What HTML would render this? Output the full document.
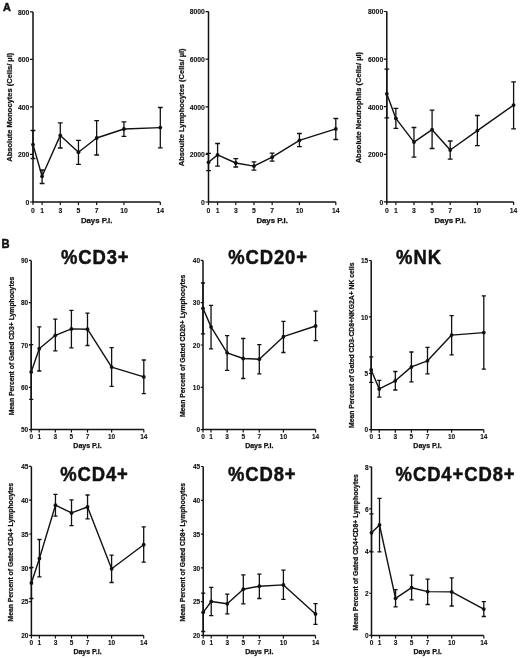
<!DOCTYPE html>
<html><head><meta charset="utf-8"><style>
html,body{margin:0;padding:0;background:#fff;}
svg{display:block;will-change:transform;}
text{font-family:"Liberation Sans",sans-serif;fill:#111;stroke:#111;stroke-width:0.25px;}
.yt{text-anchor:end;font-weight:bold;stroke-width:0.1px;}
.xt{text-anchor:middle;font-weight:bold;stroke-width:0.1px;}
.xl{text-anchor:middle;font-weight:bold;}
.yl{text-anchor:middle;font-weight:bold;}
.ti{font-weight:bold;font-size:20.5px;letter-spacing:1.0px;stroke-width:0.5px;}
.pl{font-weight:bold;font-size:12.2px;stroke-width:0.5px;}
</style></head><body>
<svg width="520" height="658" viewBox="0 0 520 658">
<rect width="520" height="658" fill="#fff"/>
<text transform="translate(2.9 10.7) scale(0.95 1)" class="pl" style="font-size:11.5px">A</text>
<text transform="translate(1.6 247.9) scale(0.92 1)" class="pl">B</text>
<g><path d="M33 11.9V202H160.3" fill="none" stroke="#111" stroke-width="1.5"/><text x="29.4" y="204.8" class="yt" font-size="6.8">0</text><text x="29.4" y="157.28" class="yt" font-size="6.8">200</text><text x="29.4" y="109.75" class="yt" font-size="6.8">400</text><text x="29.4" y="62.23" class="yt" font-size="6.8">600</text><text x="29.4" y="14.7" class="yt" font-size="6.8">800</text><text x="33" y="212.9" class="xt" font-size="6.8">0</text><text x="42.09" y="212.9" class="xt" font-size="6.8">1</text><text x="60.28" y="212.9" class="xt" font-size="6.8">3</text><text x="78.46" y="212.9" class="xt" font-size="6.8">5</text><text x="96.65" y="212.9" class="xt" font-size="6.8">7</text><text x="123.93" y="212.9" class="xt" font-size="6.8">10</text><text x="160.3" y="212.9" class="xt" font-size="6.8">14</text><path d="M30 202H33M30 154.47H33M30 106.95H33M30 59.43H33M30 11.9H33M33 202V205M42.09 202V205M60.28 202V205M78.46 202V205M96.65 202V205M123.93 202V205M160.3 202V205" fill="none" stroke="#111" stroke-width="1.2"/><text x="96.65" y="223.3" class="xl" font-size="7.8">Days P.I.</text><text transform="translate(12.45 107.25) rotate(-90)" class="yl" font-size="7.5">Absolute Monocytes (Cells/ µl)</text><path d="M33 130.5V158.5M30.6 130.5H35.4M30.6 158.5H35.4M42.09 170V183.5M39.69 170H44.49M39.69 183.5H44.49M60.28 122.8V148M57.88 122.8H62.68M57.88 148H62.68M78.46 140.3V164.3M76.06 140.3H80.86M76.06 164.3H80.86M96.65 120.6V155M94.25 120.6H99.05M94.25 155H99.05M123.93 121.8V136.4M121.53 121.8H126.33M121.53 136.4H126.33M160.3 107.5V147.9M157.9 107.5H162.7M157.9 147.9H162.7" fill="none" stroke="#111" stroke-width="1.3"/><polyline points="33,144.6 42.09,176.3 60.28,135.4 78.46,152.2 96.65,138 123.93,129 160.3,127.6" fill="none" stroke="#111" stroke-width="1.4" stroke-linejoin="round"/><circle cx="33" cy="144.6" r="1.9" fill="#111"/><circle cx="42.09" cy="176.3" r="1.9" fill="#111"/><circle cx="60.28" cy="135.4" r="1.9" fill="#111"/><circle cx="78.46" cy="152.2" r="1.9" fill="#111"/><circle cx="96.65" cy="138" r="1.9" fill="#111"/><circle cx="123.93" cy="129" r="1.9" fill="#111"/><circle cx="160.3" cy="127.6" r="1.9" fill="#111"/></g>
<g><path d="M208.5 11.6V202H335.8" fill="none" stroke="#111" stroke-width="1.5"/><text x="204.9" y="204.8" class="yt" font-size="6.8">0</text><text x="204.9" y="157.2" class="yt" font-size="6.8">2000</text><text x="204.9" y="109.6" class="yt" font-size="6.8">4000</text><text x="204.9" y="62" class="yt" font-size="6.8">6000</text><text x="204.9" y="14.4" class="yt" font-size="6.8">8000</text><text x="208.5" y="212.9" class="xt" font-size="6.8">0</text><text x="217.59" y="212.9" class="xt" font-size="6.8">1</text><text x="235.78" y="212.9" class="xt" font-size="6.8">3</text><text x="253.96" y="212.9" class="xt" font-size="6.8">5</text><text x="272.15" y="212.9" class="xt" font-size="6.8">7</text><text x="299.43" y="212.9" class="xt" font-size="6.8">10</text><text x="335.8" y="212.9" class="xt" font-size="6.8">14</text><path d="M205.5 202H208.5M205.5 154.4H208.5M205.5 106.8H208.5M205.5 59.2H208.5M205.5 11.6H208.5M208.5 202V205M217.59 202V205M235.78 202V205M253.96 202V205M272.15 202V205M299.43 202V205M335.8 202V205" fill="none" stroke="#111" stroke-width="1.2"/><text x="272.15" y="223.3" class="xl" font-size="7.8">Days P.I.</text><text transform="translate(184.1 107.3) rotate(-90)" class="yl" font-size="7.5">Absoulte Lymphocytes (Cells/ µl)</text><path d="M208.5 153.4V170.6M206.1 153.4H210.9M206.1 170.6H210.9M217.59 143.5V166.1M215.19 143.5H219.99M215.19 166.1H219.99M235.78 158.7V167M233.38 158.7H238.18M233.38 167H238.18M253.96 161.9V170.1M251.56 161.9H256.36M251.56 170.1H256.36M272.15 153.1V161.1M269.75 153.1H274.55M269.75 161.1H274.55M299.43 133.5V146.6M297.03 133.5H301.83M297.03 146.6H301.83M335.8 118.5V139.5M333.4 118.5H338.2M333.4 139.5H338.2" fill="none" stroke="#111" stroke-width="1.3"/><polyline points="208.5,162.3 217.59,154.9 235.78,163 253.96,166.1 272.15,157.2 299.43,140.3 335.8,128.9" fill="none" stroke="#111" stroke-width="1.4" stroke-linejoin="round"/><circle cx="208.5" cy="162.3" r="1.9" fill="#111"/><circle cx="217.59" cy="154.9" r="1.9" fill="#111"/><circle cx="235.78" cy="163" r="1.9" fill="#111"/><circle cx="253.96" cy="166.1" r="1.9" fill="#111"/><circle cx="272.15" cy="157.2" r="1.9" fill="#111"/><circle cx="299.43" cy="140.3" r="1.9" fill="#111"/><circle cx="335.8" cy="128.9" r="1.9" fill="#111"/></g>
<g><path d="M386.8 11.5V201.9H513.6" fill="none" stroke="#111" stroke-width="1.5"/><text x="383.2" y="204.7" class="yt" font-size="6.8">0</text><text x="383.2" y="157.1" class="yt" font-size="6.8">2000</text><text x="383.2" y="109.5" class="yt" font-size="6.8">4000</text><text x="383.2" y="61.9" class="yt" font-size="6.8">6000</text><text x="383.2" y="14.3" class="yt" font-size="6.8">8000</text><text x="386.8" y="212.8" class="xt" font-size="6.8">0</text><text x="395.86" y="212.8" class="xt" font-size="6.8">1</text><text x="413.97" y="212.8" class="xt" font-size="6.8">3</text><text x="432.09" y="212.8" class="xt" font-size="6.8">5</text><text x="450.2" y="212.8" class="xt" font-size="6.8">7</text><text x="477.37" y="212.8" class="xt" font-size="6.8">10</text><text x="513.6" y="212.8" class="xt" font-size="6.8">14</text><path d="M383.8 201.9H386.8M383.8 154.3H386.8M383.8 106.7H386.8M383.8 59.1H386.8M383.8 11.5H386.8M386.8 201.9V204.9M395.86 201.9V204.9M413.97 201.9V204.9M432.09 201.9V204.9M450.2 201.9V204.9M477.37 201.9V204.9M513.6 201.9V204.9" fill="none" stroke="#111" stroke-width="1.2"/><text x="450.2" y="223.2" class="xl" font-size="7.8">Days P.I.</text><text transform="translate(361.05 107.6) rotate(-90)" class="yl" font-size="7.5">Absolute Neutrophils (Cells/ µl)</text><path d="M386.8 69.2V117.8M384.4 69.2H389.2M384.4 117.8H389.2M395.86 108.4V128.4M393.46 108.4H398.26M393.46 128.4H398.26M413.97 127.5V157.2M411.57 127.5H416.37M411.57 157.2H416.37M432.09 110.2V148.5M429.69 110.2H434.49M429.69 148.5H434.49M450.2 141V159.1M447.8 141H452.6M447.8 159.1H452.6M477.37 115.5V145.6M474.97 115.5H479.77M474.97 145.6H479.77M513.6 81.8V128.8M511.2 81.8H516M511.2 128.8H516" fill="none" stroke="#111" stroke-width="1.3"/><polyline points="386.8,93.8 395.86,118.4 413.97,142.1 432.09,129.7 450.2,150 477.37,130.6 513.6,105.1" fill="none" stroke="#111" stroke-width="1.4" stroke-linejoin="round"/><circle cx="386.8" cy="93.8" r="1.9" fill="#111"/><circle cx="395.86" cy="118.4" r="1.9" fill="#111"/><circle cx="413.97" cy="142.1" r="1.9" fill="#111"/><circle cx="432.09" cy="129.7" r="1.9" fill="#111"/><circle cx="450.2" cy="150" r="1.9" fill="#111"/><circle cx="477.37" cy="130.6" r="1.9" fill="#111"/><circle cx="513.6" cy="105.1" r="1.9" fill="#111"/></g>
<g><path d="M31.2 260.4V429.6H143.8" fill="none" stroke="#111" stroke-width="1.5"/><text x="28.2" y="432.3" class="yt" font-size="6.5">50</text><text x="28.2" y="390" class="yt" font-size="6.5">60</text><text x="28.2" y="347.7" class="yt" font-size="6.5">70</text><text x="28.2" y="305.4" class="yt" font-size="6.5">80</text><text x="28.2" y="263.1" class="yt" font-size="6.5">90</text><text x="31.2" y="438.8" class="xt" font-size="6.5">0</text><text x="39.24" y="438.8" class="xt" font-size="6.5">1</text><text x="55.33" y="438.8" class="xt" font-size="6.5">3</text><text x="71.41" y="438.8" class="xt" font-size="6.5">5</text><text x="87.5" y="438.8" class="xt" font-size="6.5">7</text><text x="111.63" y="438.8" class="xt" font-size="6.5">10</text><text x="143.8" y="438.8" class="xt" font-size="6.5">14</text><path d="M28.9 429.6H31.2M28.9 387.3H31.2M28.9 345H31.2M28.9 302.7H31.2M28.9 260.4H31.2M31.2 429.6V432.6M39.24 429.6V432.6M55.33 429.6V432.6M71.41 429.6V432.6M87.5 429.6V432.6M111.63 429.6V432.6M143.8 429.6V432.6" fill="none" stroke="#111" stroke-width="1.2"/><text x="87.5" y="448.1" class="xl" font-size="7.0">Days P.I.</text><text transform="translate(13.55 346.05) rotate(-90)" class="yl" font-size="6.8">Mean Percent of Gated CD3+ Lymphocytes</text><path d="M31.2 344.6V399.3M29.1 344.6H33.3M29.1 399.3H33.3M39.24 326.9V371M37.14 326.9H41.34M37.14 371H41.34M55.33 319.2V350.9M53.23 319.2H57.43M53.23 350.9H57.43M71.41 310.4V347.8M69.31 310.4H73.51M69.31 347.8H73.51M87.5 313.2V345.5M85.4 313.2H89.6M85.4 345.5H89.6M111.63 347.6V386.4M109.53 347.6H113.73M109.53 386.4H113.73M143.8 360V393.6M141.7 360H145.9M141.7 393.6H145.9" fill="none" stroke="#111" stroke-width="1.3"/><polyline points="31.2,371.9 39.24,348.7 55.33,335.3 71.41,328.9 87.5,329.2 111.63,367.1 143.8,376.9" fill="none" stroke="#111" stroke-width="1.4" stroke-linejoin="round"/><circle cx="31.2" cy="371.9" r="1.9" fill="#111"/><circle cx="39.24" cy="348.7" r="1.9" fill="#111"/><circle cx="55.33" cy="335.3" r="1.9" fill="#111"/><circle cx="71.41" cy="328.9" r="1.9" fill="#111"/><circle cx="87.5" cy="329.2" r="1.9" fill="#111"/><circle cx="111.63" cy="367.1" r="1.9" fill="#111"/><circle cx="143.8" cy="376.9" r="1.9" fill="#111"/><text transform="translate(60.9 264.3) scale(0.9 1)" class="ti">&#37;CD3+</text></g>
<g><path d="M203 260.4V429.6H315.6" fill="none" stroke="#111" stroke-width="1.5"/><text x="200" y="432.3" class="yt" font-size="6.5">0</text><text x="200" y="390" class="yt" font-size="6.5">10</text><text x="200" y="347.7" class="yt" font-size="6.5">20</text><text x="200" y="305.4" class="yt" font-size="6.5">30</text><text x="200" y="263.1" class="yt" font-size="6.5">40</text><text x="203" y="438.8" class="xt" font-size="6.5">0</text><text x="211.04" y="438.8" class="xt" font-size="6.5">1</text><text x="227.13" y="438.8" class="xt" font-size="6.5">3</text><text x="243.21" y="438.8" class="xt" font-size="6.5">5</text><text x="259.3" y="438.8" class="xt" font-size="6.5">7</text><text x="283.43" y="438.8" class="xt" font-size="6.5">10</text><text x="315.6" y="438.8" class="xt" font-size="6.5">14</text><path d="M200.7 429.6H203M200.7 387.3H203M200.7 345H203M200.7 302.7H203M200.7 260.4H203M203 429.6V432.6M211.04 429.6V432.6M227.13 429.6V432.6M243.21 429.6V432.6M259.3 429.6V432.6M283.43 429.6V432.6M315.6 429.6V432.6" fill="none" stroke="#111" stroke-width="1.2"/><text x="259.3" y="448.1" class="xl" font-size="7.0">Days P.I.</text><text transform="translate(185.45 345.9) rotate(-90)" class="yl" font-size="6.8">Mean Percent of Gated CD20+ Lymphocytes</text><path d="M203 283V333.8M200.9 283H205.1M200.9 333.8H205.1M211.04 305.3V348.9M208.94 305.3H213.14M208.94 348.9H213.14M227.13 335.7V370.3M225.03 335.7H229.23M225.03 370.3H229.23M243.21 338.5V378.5M241.11 338.5H245.31M241.11 378.5H245.31M259.3 344.6V373.8M257.2 344.6H261.4M257.2 373.8H261.4M283.43 321.3V352.5M281.33 321.3H285.53M281.33 352.5H285.53M315.6 311.2V340.6M313.5 311.2H317.7M313.5 340.6H317.7" fill="none" stroke="#111" stroke-width="1.3"/><polyline points="203,308.3 211.04,326.9 227.13,352.8 243.21,358.5 259.3,359.2 283.43,336.7 315.6,326" fill="none" stroke="#111" stroke-width="1.4" stroke-linejoin="round"/><circle cx="203" cy="308.3" r="1.9" fill="#111"/><circle cx="211.04" cy="326.9" r="1.9" fill="#111"/><circle cx="227.13" cy="352.8" r="1.9" fill="#111"/><circle cx="243.21" cy="358.5" r="1.9" fill="#111"/><circle cx="259.3" cy="359.2" r="1.9" fill="#111"/><circle cx="283.43" cy="336.7" r="1.9" fill="#111"/><circle cx="315.6" cy="326" r="1.9" fill="#111"/><text transform="translate(228.2 264.3) scale(0.9 1)" class="ti">&#37;CD20+</text></g>
<g><path d="M371.2 260.5V429.7H483.8" fill="none" stroke="#111" stroke-width="1.5"/><text x="368.2" y="432.4" class="yt" font-size="6.5">0</text><text x="368.2" y="376" class="yt" font-size="6.5">5</text><text x="368.2" y="319.6" class="yt" font-size="6.5">10</text><text x="368.2" y="263.2" class="yt" font-size="6.5">15</text><text x="371.2" y="438.9" class="xt" font-size="6.5">0</text><text x="379.24" y="438.9" class="xt" font-size="6.5">1</text><text x="395.33" y="438.9" class="xt" font-size="6.5">3</text><text x="411.41" y="438.9" class="xt" font-size="6.5">5</text><text x="427.5" y="438.9" class="xt" font-size="6.5">7</text><text x="451.63" y="438.9" class="xt" font-size="6.5">10</text><text x="483.8" y="438.9" class="xt" font-size="6.5">14</text><path d="M368.9 429.7H371.2M368.9 373.3H371.2M368.9 316.9H371.2M368.9 260.5H371.2M371.2 429.7V432.7M379.24 429.7V432.7M395.33 429.7V432.7M411.41 429.7V432.7M427.5 429.7V432.7M451.63 429.7V432.7M483.8 429.7V432.7" fill="none" stroke="#111" stroke-width="1.2"/><text x="427.5" y="448.2" class="xl" font-size="7.0">Days P.I.</text><text transform="translate(354.1 345.3) rotate(-90)" class="yl" font-size="6.8">Mean Percent of Gated CD3-CD8+NKG2A+ NK cells</text><path d="M371.2 356.9V382.3M369.1 356.9H373.3M369.1 382.3H373.3M379.24 380.3V397.2M377.14 380.3H381.34M377.14 397.2H381.34M395.33 371.5V390M393.23 371.5H397.43M393.23 390H397.43M411.41 352V381.8M409.31 352H413.51M409.31 381.8H413.51M427.5 347.4V373.8M425.4 347.4H429.6M425.4 373.8H429.6M451.63 315.7V354.9M449.53 315.7H453.73M449.53 354.9H453.73M483.8 295.8V369.2M481.7 295.8H485.9M481.7 369.2H485.9" fill="none" stroke="#111" stroke-width="1.3"/><polyline points="371.2,370 379.24,388.9 395.33,380.8 411.41,366.9 427.5,360.8 451.63,335.1 483.8,332.6" fill="none" stroke="#111" stroke-width="1.4" stroke-linejoin="round"/><circle cx="371.2" cy="370" r="1.9" fill="#111"/><circle cx="379.24" cy="388.9" r="1.9" fill="#111"/><circle cx="395.33" cy="380.8" r="1.9" fill="#111"/><circle cx="411.41" cy="366.9" r="1.9" fill="#111"/><circle cx="427.5" cy="360.8" r="1.9" fill="#111"/><circle cx="451.63" cy="335.1" r="1.9" fill="#111"/><circle cx="483.8" cy="332.6" r="1.9" fill="#111"/><text transform="translate(396.1 264.3) scale(0.9 1)" class="ti">&#37;NK</text></g>
<g><path d="M31.4 466.4V635.4H143.7" fill="none" stroke="#111" stroke-width="1.5"/><text x="28.4" y="638.1" class="yt" font-size="6.5">20</text><text x="28.4" y="604.3" class="yt" font-size="6.5">25</text><text x="28.4" y="570.5" class="yt" font-size="6.5">30</text><text x="28.4" y="536.7" class="yt" font-size="6.5">35</text><text x="28.4" y="502.9" class="yt" font-size="6.5">40</text><text x="28.4" y="469.1" class="yt" font-size="6.5">45</text><text x="31.4" y="644.6" class="xt" font-size="6.5">0</text><text x="39.42" y="644.6" class="xt" font-size="6.5">1</text><text x="55.46" y="644.6" class="xt" font-size="6.5">3</text><text x="71.51" y="644.6" class="xt" font-size="6.5">5</text><text x="87.55" y="644.6" class="xt" font-size="6.5">7</text><text x="111.61" y="644.6" class="xt" font-size="6.5">10</text><text x="143.7" y="644.6" class="xt" font-size="6.5">14</text><path d="M29.1 635.4H31.4M29.1 601.6H31.4M29.1 567.8H31.4M29.1 534H31.4M29.1 500.2H31.4M29.1 466.4H31.4M31.4 635.4V638.4M39.42 635.4V638.4M55.46 635.4V638.4M71.51 635.4V638.4M87.55 635.4V638.4M111.61 635.4V638.4M143.7 635.4V638.4" fill="none" stroke="#111" stroke-width="1.2"/><text x="87.55" y="653.9" class="xl" font-size="7.0">Days P.I.</text><text transform="translate(13.3 552.2) rotate(-90)" class="yl" font-size="6.8">Mean Percent of Gated CD4+ Lymphocytes</text><path d="M31.4 567.5V598.5M29.3 567.5H33.5M29.3 598.5H33.5M39.42 539.5V576.9M37.32 539.5H41.52M37.32 576.9H41.52M55.46 494.3V516.2M53.36 494.3H57.56M53.36 516.2H57.56M71.51 499.8V525.7M69.41 499.8H73.61M69.41 525.7H73.61M87.55 495V518.8M85.45 495H89.65M85.45 518.8H89.65M111.61 555.1V582.5M109.51 555.1H113.71M109.51 582.5H113.71M143.7 526.9V562.1M141.6 526.9H145.8M141.6 562.1H145.8" fill="none" stroke="#111" stroke-width="1.3"/><polyline points="31.4,583 39.42,558.5 55.46,505.2 71.51,512.9 87.55,507 111.61,568.8 143.7,544.7" fill="none" stroke="#111" stroke-width="1.4" stroke-linejoin="round"/><circle cx="31.4" cy="583" r="1.9" fill="#111"/><circle cx="39.42" cy="558.5" r="1.9" fill="#111"/><circle cx="55.46" cy="505.2" r="1.9" fill="#111"/><circle cx="71.51" cy="512.9" r="1.9" fill="#111"/><circle cx="87.55" cy="507" r="1.9" fill="#111"/><circle cx="111.61" cy="568.8" r="1.9" fill="#111"/><circle cx="143.7" cy="544.7" r="1.9" fill="#111"/><text transform="translate(60.2 480.8) scale(0.9 1)" class="ti">&#37;CD4+</text></g>
<g><path d="M203.2 466.5V635.4H315.5" fill="none" stroke="#111" stroke-width="1.5"/><text x="200.2" y="638.1" class="yt" font-size="6.5">20</text><text x="200.2" y="604.32" class="yt" font-size="6.5">25</text><text x="200.2" y="570.54" class="yt" font-size="6.5">30</text><text x="200.2" y="536.76" class="yt" font-size="6.5">35</text><text x="200.2" y="502.98" class="yt" font-size="6.5">40</text><text x="200.2" y="469.2" class="yt" font-size="6.5">45</text><text x="203.2" y="644.6" class="xt" font-size="6.5">0</text><text x="211.22" y="644.6" class="xt" font-size="6.5">1</text><text x="227.26" y="644.6" class="xt" font-size="6.5">3</text><text x="243.31" y="644.6" class="xt" font-size="6.5">5</text><text x="259.35" y="644.6" class="xt" font-size="6.5">7</text><text x="283.41" y="644.6" class="xt" font-size="6.5">10</text><text x="315.5" y="644.6" class="xt" font-size="6.5">14</text><path d="M200.9 635.4H203.2M200.9 601.62H203.2M200.9 567.84H203.2M200.9 534.06H203.2M200.9 500.28H203.2M200.9 466.5H203.2M203.2 635.4V638.4M211.22 635.4V638.4M227.26 635.4V638.4M243.31 635.4V638.4M259.35 635.4V638.4M283.41 635.4V638.4M315.5 635.4V638.4" fill="none" stroke="#111" stroke-width="1.2"/><text x="259.35" y="653.9" class="xl" font-size="7.0">Days P.I.</text><text transform="translate(185.25 552.25) rotate(-90)" class="yl" font-size="6.8">Mean Percent of Gated CD8+ Lymphocytes</text><path d="M203.2 593.1V631.5M201.1 593.1H205.3M201.1 631.5H205.3M211.22 587.4V615.7M209.12 587.4H213.32M209.12 615.7H213.32M227.26 594.2V613.8M225.16 594.2H229.36M225.16 613.8H229.36M243.31 574.9V603.8M241.21 574.9H245.41M241.21 603.8H245.41M259.35 574.2V598.5M257.25 574.2H261.45M257.25 598.5H261.45M283.41 570.1V599.4M281.31 570.1H285.51M281.31 599.4H285.51M315.5 603.7V624.3M313.4 603.7H317.6M313.4 624.3H317.6" fill="none" stroke="#111" stroke-width="1.3"/><polyline points="203.2,612.3 211.22,601.5 227.26,603.8 243.31,589.2 259.35,586.2 283.41,584.9 315.5,613.9" fill="none" stroke="#111" stroke-width="1.4" stroke-linejoin="round"/><circle cx="203.2" cy="612.3" r="1.9" fill="#111"/><circle cx="211.22" cy="601.5" r="1.9" fill="#111"/><circle cx="227.26" cy="603.8" r="1.9" fill="#111"/><circle cx="243.31" cy="589.2" r="1.9" fill="#111"/><circle cx="259.35" cy="586.2" r="1.9" fill="#111"/><circle cx="283.41" cy="584.9" r="1.9" fill="#111"/><circle cx="315.5" cy="613.9" r="1.9" fill="#111"/><text transform="translate(227.9 480.9) scale(0.9 1)" class="ti">&#37;CD8+</text></g>
<g><path d="M371.5 466.8V635.4H483.8" fill="none" stroke="#111" stroke-width="1.5"/><text x="368.5" y="638.1" class="yt" font-size="6.5">0</text><text x="368.5" y="595.95" class="yt" font-size="6.5">2</text><text x="368.5" y="553.8" class="yt" font-size="6.5">4</text><text x="368.5" y="511.65" class="yt" font-size="6.5">6</text><text x="368.5" y="469.5" class="yt" font-size="6.5">8</text><text x="371.5" y="644.6" class="xt" font-size="6.5">0</text><text x="379.52" y="644.6" class="xt" font-size="6.5">1</text><text x="395.56" y="644.6" class="xt" font-size="6.5">3</text><text x="411.61" y="644.6" class="xt" font-size="6.5">5</text><text x="427.65" y="644.6" class="xt" font-size="6.5">7</text><text x="451.71" y="644.6" class="xt" font-size="6.5">10</text><text x="483.8" y="644.6" class="xt" font-size="6.5">14</text><path d="M369.2 635.4H371.5M369.2 593.25H371.5M369.2 551.1H371.5M369.2 508.95H371.5M369.2 466.8H371.5M371.5 635.4V638.4M379.52 635.4V638.4M395.56 635.4V638.4M411.61 635.4V638.4M427.65 635.4V638.4M451.71 635.4V638.4M483.8 635.4V638.4" fill="none" stroke="#111" stroke-width="1.2"/><text x="427.65" y="653.9" class="xl" font-size="7.0">Days P.I.</text><text transform="translate(357.65 552.35) rotate(-90)" class="yl" font-size="6.8">Mean Percent of Gated CD4+CD8+ Lymphocytes</text><path d="M371.5 513.9V551.9M369.4 513.9H373.6M369.4 551.9H373.6M379.52 498.3V551.9M377.42 498.3H381.62M377.42 551.9H381.62M395.56 589.6V606.8M393.46 589.6H397.66M393.46 606.8H397.66M411.61 575.2V599.9M409.51 575.2H413.71M409.51 599.9H413.71M427.65 579.2V604.5M425.55 579.2H429.75M425.55 604.5H429.75M451.71 577.9V606M449.61 577.9H453.81M449.61 606H453.81M483.8 601.7V616.5M481.7 601.7H485.9M481.7 616.5H485.9" fill="none" stroke="#111" stroke-width="1.3"/><polyline points="371.5,532.8 379.52,525 395.56,598.3 411.61,587.7 427.65,591.6 451.71,591.9 483.8,609.1" fill="none" stroke="#111" stroke-width="1.4" stroke-linejoin="round"/><circle cx="371.5" cy="532.8" r="1.9" fill="#111"/><circle cx="379.52" cy="525" r="1.9" fill="#111"/><circle cx="395.56" cy="598.3" r="1.9" fill="#111"/><circle cx="411.61" cy="587.7" r="1.9" fill="#111"/><circle cx="427.65" cy="591.6" r="1.9" fill="#111"/><circle cx="451.71" cy="591.9" r="1.9" fill="#111"/><circle cx="483.8" cy="609.1" r="1.9" fill="#111"/><text transform="translate(395.6 481) scale(0.9 1)" class="ti">&#37;CD4+CD8+</text></g>
</svg>
</body></html>
